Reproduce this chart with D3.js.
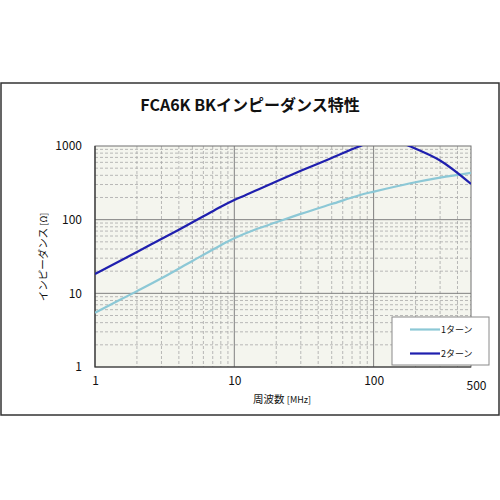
<!DOCTYPE html>
<html>
<head>
<meta charset="utf-8">
<script src="https://cdn.jsdelivr.net/npm/d3@7"></script>
<style>
  body { margin: 0; background: #fff; }
  svg text { font-family: "Noto Sans CJK JP", "Noto Sans", sans-serif; fill: #111; }
</style>
</head>
<body>
<script>
// chart data
const title = "FCA6K BKインピーダンス特性";
const seriesNames = ["1ターン", "2ターン"];
const seriesColors = ["#8cc8d6", "#1f1fae"];

// 1ターン
const freq1 = [1, 1.5, 2, 3, 5, 8, 10, 14, 20, 30, 50, 80, 100, 180, 300, 500];
const imp1 = [5.45, 8.1, 10.7, 16, 27.5, 45, 56, 73, 92, 120, 163, 216, 240, 310, 372, 432];

// 2ターン (peaks above 1000, clipped by the plot)
const freq2 = [1, 2, 4, 6, 8, 10, 12, 15, 20, 30, 50, 80, 100, 120, 150, 180, 300, 500];
const imp2 = [18.3, 36.5, 73, 111, 150, 185, 215, 258, 330, 460, 687, 1000, 1150, 1200, 1140, 1000, 635, 305];

const xTicks = [1, 10, 100, 500];
const yTicks = [1, 10, 100, 1000];

const W = 500, H = 500;
const svg = d3.select("body").append("svg").attr("width", W).attr("height", H);

// outer frame
svg.append("rect")
  .attr("x", 1).attr("y", 83).attr("width", 498).attr("height", 332)
  .attr("fill", "#fff").attr("stroke", "#333").attr("stroke-width", 1.5);

const pL = 95, pR = 471, pT = 146, pB = 367;

const x = d3.scaleLog().domain([1, 500]).range([pL, pR]);
const y = d3.scaleLog().domain([1, 1000]).range([pB, pT]);

// plot background
svg.append("rect")
  .attr("x", pL).attr("y", pT).attr("width", pR - pL).attr("height", pB - pT)
  .attr("fill", "#f4f5ee");

// minor grid
const minorX = [], minorY = [];
for (let d = 1; d <= 100; d *= 10) {
  for (let k = 2; k <= 9; k++) {
    if (d * k < 500) minorX.push(d * k);
    if (d * k < 1000) minorY.push(d * k);
  }
}
const grid = svg.append("g");
grid.selectAll(".mx").data(minorX).join("line")
  .attr("x1", d => x(d)).attr("x2", d => x(d))
  .attr("y1", pT).attr("y2", pB)
  .attr("stroke", "#a8a8a8").attr("stroke-width", 0.8).attr("stroke-dasharray", "3,2");
grid.selectAll(".my").data(minorY).join("line")
  .attr("x1", pL).attr("x2", pR)
  .attr("y1", d => y(d)).attr("y2", d => y(d))
  .attr("stroke", "#a8a8a8").attr("stroke-width", 0.8).attr("stroke-dasharray", "3,2");

// major grid
grid.selectAll(".Mx").data([10, 100]).join("line")
  .attr("x1", d => x(d)).attr("x2", d => x(d))
  .attr("y1", pT).attr("y2", pB)
  .attr("stroke", "#808080").attr("stroke-width", 1);
grid.selectAll(".My").data([10, 100]).join("line")
  .attr("x1", pL).attr("x2", pR)
  .attr("y1", d => y(d)).attr("y2", d => y(d))
  .attr("stroke", "#808080").attr("stroke-width", 1);

// plot frame
svg.append("rect")
  .attr("x", pL).attr("y", pT).attr("width", pR - pL).attr("height", pB - pT)
  .attr("fill", "none").attr("stroke", "#707070").attr("stroke-width", 1);
svg.append("path")
  .attr("d", `M${pL},${pT}V${pB}H${pR}`)
  .attr("fill", "none").attr("stroke", "#333").attr("stroke-width", 1.2);

// axes labels
const yAxis = d3.axisLeft(y).tickValues(yTicks).tickFormat(d3.format("d")).tickSize(0).tickPadding(13);
const gy = svg.append("g").attr("transform", `translate(${pL},0)`).call(yAxis);
gy.select(".domain").remove();
gy.selectAll("text").style("font-size", "12px").attr("fill", "#111");

const xAxis = d3.axisBottom(x).tickValues(xTicks).tickFormat(d3.format("d")).tickSize(0).tickPadding(9);
const gx = svg.append("g").attr("transform", `translate(0,${pB})`).call(xAxis);
gx.select(".domain").remove();
gx.selectAll("text").style("font-size", "12px").attr("fill", "#111");
gx.selectAll(".tick").filter(d => d === 500).select("text").attr("dx", 5).attr("dy", "1.15em");

// curves
svg.append("clipPath").attr("id", "clip")
  .append("rect").attr("x", pL).attr("y", pT).attr("width", pR - pL).attr("height", pB - pT);

const line = d3.line().x(d => x(d[0])).y(d => y(d[1])).curve(d3.curveCatmullRom.alpha(0.5));
const series = [d3.zip(freq1, imp1), d3.zip(freq2, imp2)];
svg.append("g").attr("clip-path", "url(#clip)")
  .selectAll("path").data(series).join("path")
  .attr("d", line)
  .attr("fill", "none")
  .attr("stroke", (d, i) => seriesColors[i])
  .attr("stroke-width", 2.2);

// title
svg.append("text")
  .attr("x", 250).attr("y", 111).attr("text-anchor", "middle")
  .style("font-size", "16px").style("font-weight", "bold")
  .text(title);

// axis titles
const yt = svg.append("text")
  .attr("transform", "translate(47,257) rotate(-90)")
  .attr("text-anchor", "middle").style("font-size", "10.5px");
yt.append("tspan").text("インピーダンス ");
yt.append("tspan").style("font-size", "9px").text("[Ω]");

const xt = svg.append("text")
  .attr("x", 253).attr("y", 403).style("font-size", "10.5px");
xt.append("tspan").text("周波数 ");
xt.append("tspan").style("font-size", "9px").text("[MHz]");

// legend
const lg = svg.append("g");
lg.append("rect")
  .attr("x", 392).attr("y", 317).attr("width", 97).attr("height", 48)
  .attr("fill", "#fff").attr("stroke", "#8a8a8a").attr("stroke-width", 1);
const ly = d3.scalePoint().domain(seriesNames).range([329.5, 353.5]);
lg.selectAll("line").data(seriesNames).join("line")
  .attr("x1", 410).attr("x2", 440)
  .attr("y1", d => ly(d)).attr("y2", d => ly(d))
  .attr("stroke", (d, i) => seriesColors[i]).attr("stroke-width", 2.2);
lg.selectAll("text").data(seriesNames).join("text")
  .attr("x", 441).attr("y", d => ly(d)).attr("dy", "0.35em")
  .style("font-size", "9px")
  .text(d => d);
</script>
</body>
</html>
